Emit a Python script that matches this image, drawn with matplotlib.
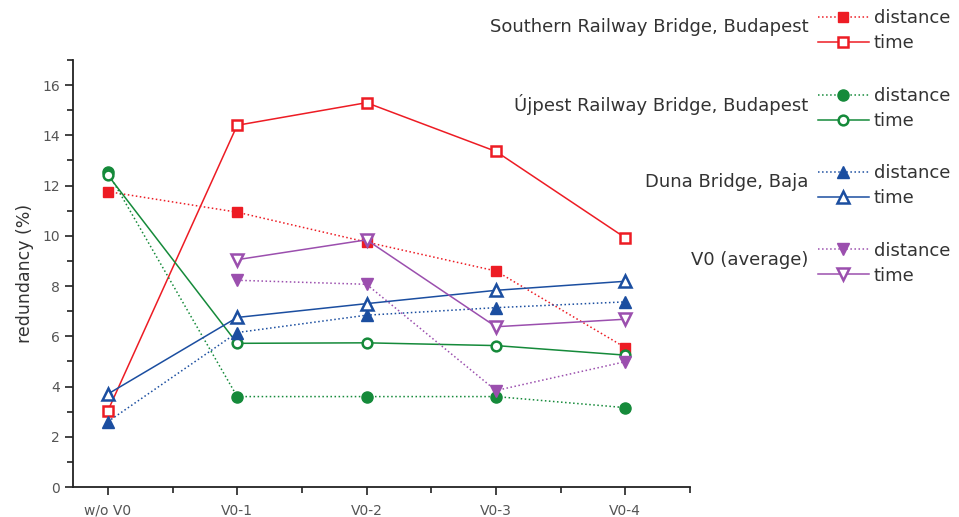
import matplotlib
matplotlib.use('Agg')
import matplotlib.pyplot as plt
from matplotlib.ticker import MultipleLocator

categories = ['w/o V0', 'V0-1', 'V0-2', 'V0-3', 'V0-4']

southern_distance = [11.76, 10.94, 9.75, 8.6, 5.55]
southern_time = [3.03, 14.4, 15.3, 13.36, 9.92]
ujpest_distance = [12.53, 3.6, 3.6, 3.6, 3.16]
ujpest_time = [12.42, 5.72, 5.74, 5.63, 5.25]
duna_distance = [2.6, 6.15, 6.84, 7.14, 7.37]
duna_time = [3.7, 6.75, 7.3, 7.83, 8.19]
v0_distance = [None, 8.23, 8.07, 3.84, 4.99]
v0_time = [None, 9.05, 9.84, 6.38, 6.68]

groups = ['Southern Railway Bridge, Budapest', 'Újpest Railway Bridge, Budapest',
          'Duna Bridge, Baja', 'V0 (average)']

red = '#ED1C24'
green = '#158A3A'
blue = '#1B4EA0'
purple = '#9B4FAE'

fig = plt.figure(figsize=(9.59, 5.17), dpi=100)
ax = fig.add_axes([0.076, 0.058, 0.6435, 0.826])

x = list(range(len(categories)))


def xy(vals):
    pts = [(i, v) for i, v in zip(x, vals) if v is not None]
    return [p[0] for p in pts], [p[1] for p in pts]


series = [
    (southern_distance, red, 's', True, ':'),
    (southern_time, red, 's', False, '-'),
    (ujpest_distance, green, 'o', True, ':'),
    (ujpest_time, green, 'o', False, '-'),
    (duna_distance, blue, '^', True, ':'),
    (duna_time, blue, '^', False, '-'),
    (v0_distance, purple, 'v', True, ':'),
    (v0_time, purple, 'v', False, '-'),
]

handles = []
for vals, col, mk, filled, ls in series:
    xs, ys = xy(vals)
    size = {'s': 7, 'o': 8 if filled else 7, '^': 8, 'v': 8}[mk]
    h, = ax.plot(xs, ys, color=col, linestyle=ls, linewidth=1.1,
                 marker=mk, markersize=size,
                 markerfacecolor=col if filled else 'white',
                 markeredgecolor=col, markeredgewidth=1.8 if not filled else 1.0)
    handles.append(h)

ax.set_xlim(-0.27, 4.5)
ax.set_ylim(0, 17)
ax.set_xticks(x)
ax.set_xticklabels(categories)
ax.xaxis.set_minor_locator(MultipleLocator(0.5))
ax.yaxis.set_major_locator(MultipleLocator(2))
ax.yaxis.set_minor_locator(MultipleLocator(1))
ax.tick_params(axis='both', which='major', direction='out', length=6, width=1.2,
               labelsize=10, colors='#222222', labelcolor='#555555')
ax.tick_params(axis='x', which='major', pad=6)
ax.tick_params(axis='both', which='minor', direction='out', length=4, width=1.2,
               colors='#222222')
for side in ['top', 'right']:
    ax.spines[side].set_visible(False)
for side in ['left', 'bottom']:
    ax.spines[side].set_linewidth(1.3)
    ax.spines[side].set_color('#222222')
ax.set_ylabel('redundancy (%)', fontsize=12.5, color='#333333', labelpad=6)

# grouped legend on the right
title_y = [0.948, 0.797, 0.648, 0.498]
for k, g in enumerate(groups):
    fig.text(0.843, title_y[k], g, ha='right', va='center', fontsize=13, color='#333333')
    fig.legend(handles=handles[2 * k:2 * k + 2], labels=['distance', 'time'],
               loc='center left', bbox_to_anchor=(0.853, title_y[k] - 0.007), frameon=False,
               fontsize=13, handlelength=2.8, handletextpad=0.3, labelspacing=0.4,
               borderaxespad=0, borderpad=0, labelcolor='#333333')

fig.savefig('out.png', dpi=100)
